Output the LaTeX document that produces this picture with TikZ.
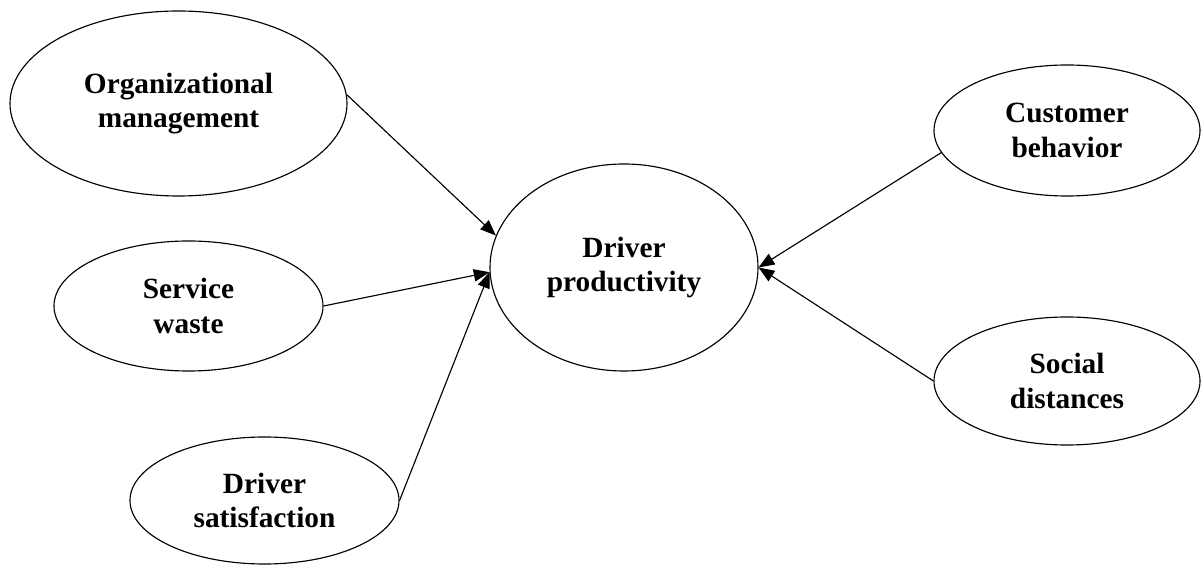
\documentclass[tikz,border=0pt]{standalone}
\usepackage{fontspec}
\setmainfont{Liberation Serif}
\usetikzlibrary{arrows.meta,shapes.geometric}

\begin{document}
\begin{tikzpicture}[font=\fontsize{16.7}{19.8}\selectfont\bfseries,
 fac/.style={draw,ellipse,line width=0.65pt,inner sep=0pt,align=center},
 arr/.style={-{Triangle[length=9pt,width=7pt]},line width=0.65pt}]
\useasboundingbox (0,0) rectangle (24.02,-11.30);
\node[fac,minimum width=6.74cm,minimum height=3.70cm] (org) at (3.57,-2.07) {Organizational\\management};
\node[fac,minimum width=5.38cm,minimum height=2.60cm] (svc) at (3.77,-6.12) {Service\\waste};
\node[fac,minimum width=5.38cm,minimum height=2.54cm] (sat) at (5.29,-10.01) {Driver\\satisfaction};
\node[fac,minimum width=5.36cm,minimum height=4.14cm] (prod) at (12.48,-5.35) {Driver\\productivity};
\node[fac,minimum width=5.32cm,minimum height=2.62cm] (cust) at (21.34,-2.61) {Customer\\behavior};
\node[fac,minimum width=5.32cm,minimum height=2.56cm] (soc) at (21.34,-7.62) {Social\\distances};
\draw[arr] (org.3)--(prod.166); \draw[arr] (svc.east)--(prod.182); \draw[arr] (sat.east)--(prod.182);
\draw[arr] (cust.190)--(prod.east); \draw[arr] (soc.west)--(prod.east);
\end{tikzpicture}
\end{document}
